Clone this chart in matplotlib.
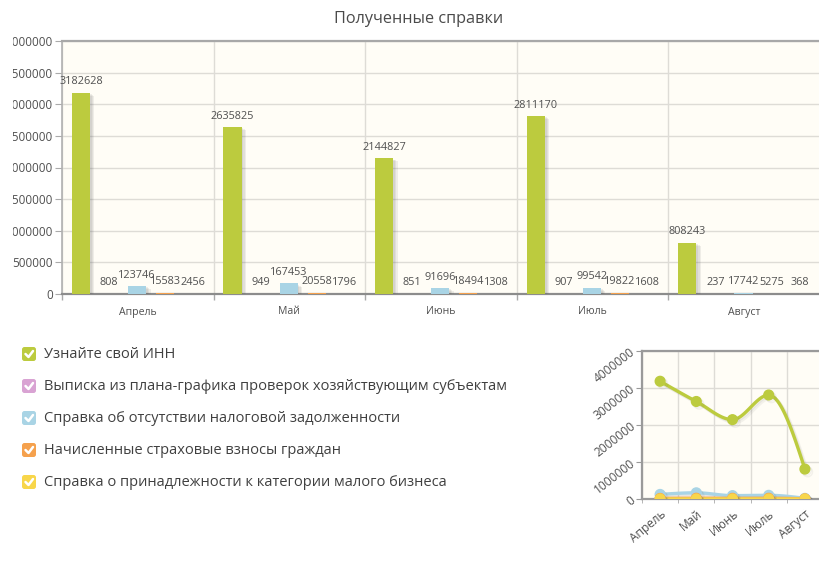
import numpy as np
import matplotlib
matplotlib.use("Agg")
import matplotlib.pyplot as plt
import matplotlib.patheffects as pe
from matplotlib.patches import FancyBboxPatch
from matplotlib.transforms import Bbox, TransformedBbox

plt.rcParams['font.family'] = ['Open Sans', 'DejaVu Sans']

# ---- data -------------------------------------------------------------
months = ["Апрель", "Май", "Июнь", "Июль", "Август"]
series_names = [
    "Узнайте свой ИНН",
    "Выписка из плана-графика проверок хозяйствующим субъектам",
    "Справка об отсутствии налоговой задолженности",
    "Начисленные страховые взносы граждан",
    "Справка о принадлежности к категории малого бизнеса",
]
inn = [3182628, 2635825, 2144827, 2811170, 808243]
inspections = [808, 949, 851, 907, 237]
no_debt = [123746, 167453, 91696, 99542, 17742]
insurance = [15583, 20558, 18494, 19822, 5275]
small_business = [2456, 1796, 1308, 1608, 368]
series = [inn, inspections, no_debt, insurance, small_business]
colors = ["#bccb3e", "#d9a3d3", "#a9d4e5", "#f5a14d", "#f8d64a"]

main_ticks = list(range(0, 4000001, 500000))
mini_ticks = list(range(0, 4000001, 1000000))

# ---- figure -------------------------------------------------------------
W, H = 819, 577
fig = plt.figure(figsize=(W / 100, H / 100), dpi=100)
fig.patch.set_facecolor("white")


def box(l, t, r, b):
    return [l / W, 1 - b / H, (r - l) / W, (b - t) / H]


TXT = "#505050"
BG = "#fffdf6"
GRID = "#dedcd6"

# overlay in pixel coordinates for the legend
ov = fig.add_axes([0, 0, 1, 1], zorder=0)
ov.set_xlim(0, W)
ov.set_ylim(H, 0)
ov.axis("off")

fig.text(419 / W, 1 - 19 / H, "Полученные справки", ha="center", va="center",
         fontsize=11.7, color="#4a4a4a")

# soft drop shadow built from a few faint offset copies
bar_shadow = [pe.SimplePatchShadow(offset=(d, -d * 0.7), shadow_rgbFace="#555555", alpha=0.09)
              for d in (1.2, 2.2, 3.2)] + [pe.Normal()]
line_shadow = [pe.SimpleLineShadow(offset=(d, -d), shadow_color="#555555", alpha=0.07)
               for d in (1.0, 2.0)] + [pe.Normal()]

# ---- main bar chart ---------------------------------------------------
ax = fig.add_axes(box(62, 41, 820, 294), zorder=2)
ax.set_facecolor(BG)
x = np.arange(len(months))
offsets = -0.5 + 0.125 + 0.185 * np.arange(len(series))
bar_w = 0.12
for i, (vals, col) in enumerate(zip(series, colors)):
    xs = x + offsets[i]
    bars = ax.bar(xs, vals, width=bar_w, color=col, zorder=3)
    for b in bars:
        b.set_path_effects(bar_shadow)
    for xi, v in zip(xs, vals):
        ax.annotate(str(v), (xi, v), xytext=(0, 4), textcoords="offset points",
                    ha="center", va="bottom", fontsize=7.8, color=TXT, zorder=5)

ax.set_xlim(-0.5, len(months) - 0.5)
ax.set_ylim(0, 4000000)
ax.set_yticks(main_ticks, labels=[str(t) for t in main_ticks])
ax.set_xticks(x, labels=months)
ax.set_xticks(np.arange(len(months) + 1) - 0.5, minor=True)
ax.tick_params(axis="x", which="major", length=0, pad=9, labelsize=7.6, labelcolor=TXT)
ax.tick_params(axis="x", which="minor", length=4, color="#aaaaaa", width=1)
ax.tick_params(axis="y", length=5, pad=1.5, labelsize=8.5, labelcolor=TXT, color="#aaaaaa")
ax.grid(axis="y", color=GRID, lw=1, zorder=0)
ax.grid(axis="x", which="minor", color=GRID, lw=1, zorder=0)
ax.set_axisbelow(True)
ax.spines["right"].set_visible(False)
ax.spines["top"].set_color("#a8a8a8")
ax.spines["top"].set_linewidth(1.6)
ax.spines["left"].set_color("#b0b0b0")
ax.spines["left"].set_linewidth(1.2)
ax.spines["bottom"].set_color("#8c8c8c")
ax.spines["bottom"].set_linewidth(1.6)

# the panel cuts the leftmost digit of the axis labels
clip = TransformedBbox(Bbox.from_extents(12.5 / W, 0, 1, 1), fig.transFigure)
for tk in ax.yaxis.get_major_ticks():
    tk.label1.set_clip_box(clip)
    tk.label1.set_clip_on(True)

# ---- legend -------------------------------------------------------------
for k, (name, col) in enumerate(zip(series_names, colors)):
    yc = 354 + 32 * k
    ov.add_patch(FancyBboxPatch((22, yc - 7), 14, 14,
                                boxstyle="round,pad=0,rounding_size=2.5",
                                fc=col, ec="none"))
    ov.plot([25.5, 28.5, 33], [yc, yc + 3, yc - 3], color="white", lw=1.8,
            solid_capstyle="round", solid_joinstyle="round")
    ov.text(44, yc, name, va="center", ha="left", fontsize=10.5, color="#404040")


# ---- small line chart ---------------------------------------------------
def constrained_spline(xs, ys, n=24):
    xs = np.asarray(xs, float)
    ys = np.asarray(ys, float)
    m = len(xs)
    sl = np.diff(ys) / np.diff(xs)
    d = np.zeros(m)
    for i in range(1, m - 1):
        if sl[i - 1] * sl[i] > 0:
            d[i] = 2.0 / (1.0 / sl[i - 1] + 1.0 / sl[i])
    d[0] = 1.5 * sl[0] - d[1] / 2
    d[-1] = 1.5 * sl[-1] - d[-2] / 2
    px, py = [], []
    t = np.linspace(0, 1, n, endpoint=False)
    for i in range(m - 1):
        h = xs[i + 1] - xs[i]
        h00 = 2 * t**3 - 3 * t**2 + 1
        h10 = t**3 - 2 * t**2 + t
        h01 = -2 * t**3 + 3 * t**2
        h11 = t**3 - t**2
        px.append(xs[i] + t * h)
        py.append(h00 * ys[i] + h10 * h * d[i] + h01 * ys[i + 1] + h11 * h * d[i + 1])
    px.append([xs[-1]])
    py.append([ys[-1]])
    return np.concatenate(px), np.concatenate(py)


ax2 = fig.add_axes(box(642, 351, 823, 499), zorder=2)
ax2.set_facecolor(BG)
for vals, col in zip(series, colors):
    sx, sy = constrained_spline(x, vals)
    ax2.plot(sx, sy, color=col, lw=2.4, zorder=3, path_effects=line_shadow,
             solid_capstyle="round")
    ax2.plot(x, vals, "o", color=col, ms=7, zorder=4, path_effects=line_shadow)

ax2.set_xlim(-0.5, len(months) - 0.5)
ax2.set_ylim(0, 4000000)
ax2.set_yticks(mini_ticks, labels=[str(t) for t in mini_ticks])
ax2.set_xticks(x, labels=months)
ax2.set_xticks(np.arange(len(months) + 1) - 0.5, minor=True)
ax2.tick_params(axis="y", length=4, pad=2, labelsize=8.6, labelcolor=TXT,
                color="#999999", labelrotation=38)
for lab in ax2.get_yticklabels():
    lab.set_rotation_mode("anchor")
    lab.set_ha("right")
    lab.set_va("center")
ax2.tick_params(axis="x", which="major", length=0, pad=6, labelsize=8.6, labelcolor=TXT)
ax2.tick_params(axis="x", which="minor", length=3, color="#aaaaaa")
for lab in ax2.get_xticklabels():
    lab.set_rotation(40)
    lab.set_rotation_mode("anchor")
    lab.set_ha("right")
    lab.set_va("top")
ax2.grid(axis="y", color=GRID, lw=1, zorder=0)
ax2.grid(axis="x", which="minor", color=GRID, lw=1, zorder=0)
ax2.set_axisbelow(True)
ax2.spines["right"].set_visible(False)
for s in ["top", "left", "bottom"]:
    ax2.spines[s].set_color("#9a9a9a")
    ax2.spines[s].set_linewidth(1.6)

fig.savefig("out.png", dpi=100, facecolor="white")
